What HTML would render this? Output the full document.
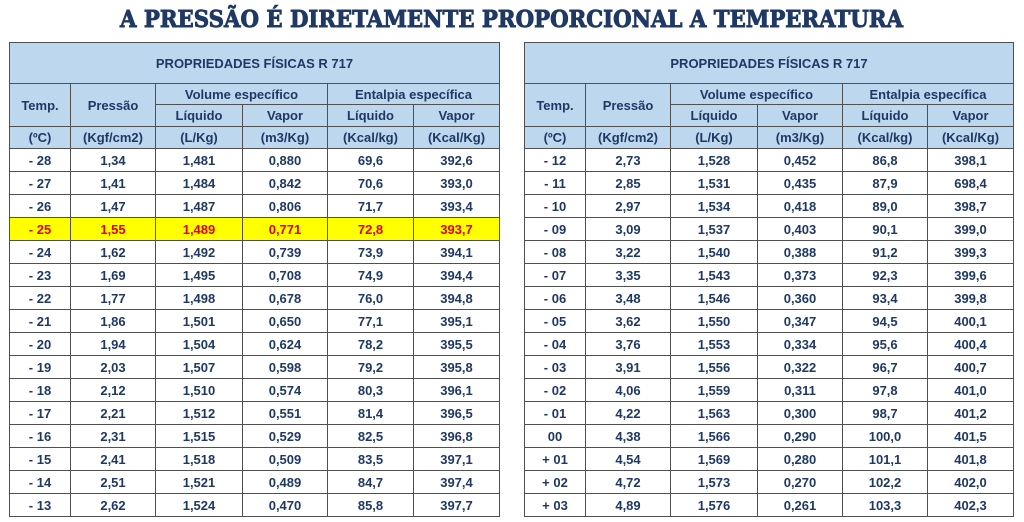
<!DOCTYPE html>
<html><head><meta charset="utf-8"><style>
body{margin:0;width:1024px;height:522px;background:#fff;overflow:hidden;position:relative;font-family:"Liberation Sans",Arial,sans-serif}
.t{position:absolute;border-collapse:collapse;table-layout:fixed;color:#1f3864;font-weight:bold;font-size:13px}
.t td{border:1px solid #505050;text-align:center;padding:0;white-space:nowrap;overflow:hidden}
.h td{background:#bdd7ee}
.hl td{background:#ffff00;color:#e00000}
</style></head><body>
<svg style="position:absolute;left:0;top:0" width="1024" height="36">
<text x="120" y="27" textLength="783" lengthAdjust="spacingAndGlyphs" font-family="DejaVu Serif" font-weight="bold" font-size="23" fill="#1f3864" stroke="#1f3864" stroke-width="0.9">A PRESSÃO É DIRETAMENTE PROPORCIONAL A TEMPERATURA</text>
</svg>
<div id="root"></div>
<script>
const leftTemps=["- 28","- 27","- 26","- 25","- 24","- 23","- 22","- 21","- 20","- 19","- 18","- 17","- 16","- 15","- 14","- 13"];
const leftPress=["1,34","1,41","1,47","1,55","1,62","1,69","1,77","1,86","1,94","2,03","2,12","2,21","2,31","2,41","2,51","2,62"];
const leftVolLiq=["1,481","1,484","1,487","1,489","1,492","1,495","1,498","1,501","1,504","1,507","1,510","1,512","1,515","1,518","1,521","1,524"];
const leftVolVap=["0,880","0,842","0,806","0,771","0,739","0,708","0,678","0,650","0,624","0,598","0,574","0,551","0,529","0,509","0,489","0,470"];
const leftEntLiq=["69,6","70,6","71,7","72,8","73,9","74,9","76,0","77,1","78,2","79,2","80,3","81,4","82,5","83,5","84,7","85,8"];
const leftEntVap=["392,6","393,0","393,4","393,7","394,1","394,4","394,8","395,1","395,5","395,8","396,1","396,5","396,8","397,1","397,4","397,7"];
const rightTemps=["- 12","- 11","- 10","- 09","- 08","- 07","- 06","- 05","- 04","- 03","- 02","- 01","00","+ 01","+ 02","+ 03"];
const rightPress=["2,73","2,85","2,97","3,09","3,22","3,35","3,48","3,62","3,76","3,91","4,06","4,22","4,38","4,54","4,72","4,89"];
const rightVolLiq=["1,528","1,531","1,534","1,537","1,540","1,543","1,546","1,550","1,553","1,556","1,559","1,563","1,566","1,569","1,573","1,576"];
const rightVolVap=["0,452","0,435","0,418","0,403","0,388","0,373","0,360","0,347","0,334","0,322","0,311","0,300","0,290","0,280","0,270","0,261"];
const rightEntLiq=["86,8","87,9","89,0","90,1","91,2","92,3","93,4","94,5","95,6","96,7","97,8","98,7","100,0","101,1","102,2","103,3"];
const rightEntVap=["398,1","698,4","398,7","399,0","399,3","399,6","399,8","400,1","400,4","400,7","401,0","401,2","401,5","401,8","402,0","402,3"];
const highlightLeft=3;

function build(left,widths,cols,hl,name){
  const t=document.createElement('table');
  t.className='t';
  
  
  t.style.left=left+'px';t.style.top='42px';
  let cg='<colgroup>'+widths.map(w=>'<col style="width:'+w+'px">').join('')+'</colgroup>';
  let h='<tr class="h" style="height:41px"><td colspan="6">PROPRIEDADES FÍSICAS R 717</td></tr>'+
  '<tr class="h" style="height:21px"><td rowspan="2">Temp.</td><td rowspan="2">Pressão</td><td colspan="2">Volume específico</td><td colspan="2">Entalpia específica</td></tr>'+
  '<tr class="h" style="height:22px"><td>Líquido</td><td>Vapor</td><td>Líquido</td><td>Vapor</td></tr>'+
  '<tr class="h" style="height:22px"><td>(ºC)</td><td>(Kgf/cm2)</td><td>(L/Kg)</td><td>(m3/Kg)</td><td>(Kcal/kg)</td><td>(Kcal/Kg)</td></tr>';
  for(let i=0;i<cols[0].length;i++){
    h+='<tr style="height:23px"'+(i===hl?' class="hl"':'')+'>'+cols.map(c=>'<td>'+c[i]+'</td>').join('')+'</tr>';
  }
  t.innerHTML=cg+h;
  document.getElementById('root').appendChild(t);
}
build(9,[61,85,87,85,86,86],[leftTemps,leftPress,leftVolLiq,leftVolVap,leftEntLiq,leftEntVap],highlightLeft,'left-table');
build(524,[61,85,87,85,85,86],[rightTemps,rightPress,rightVolLiq,rightVolVap,rightEntLiq,rightEntVap],-1,'right-table');
</script>
</body></html>
